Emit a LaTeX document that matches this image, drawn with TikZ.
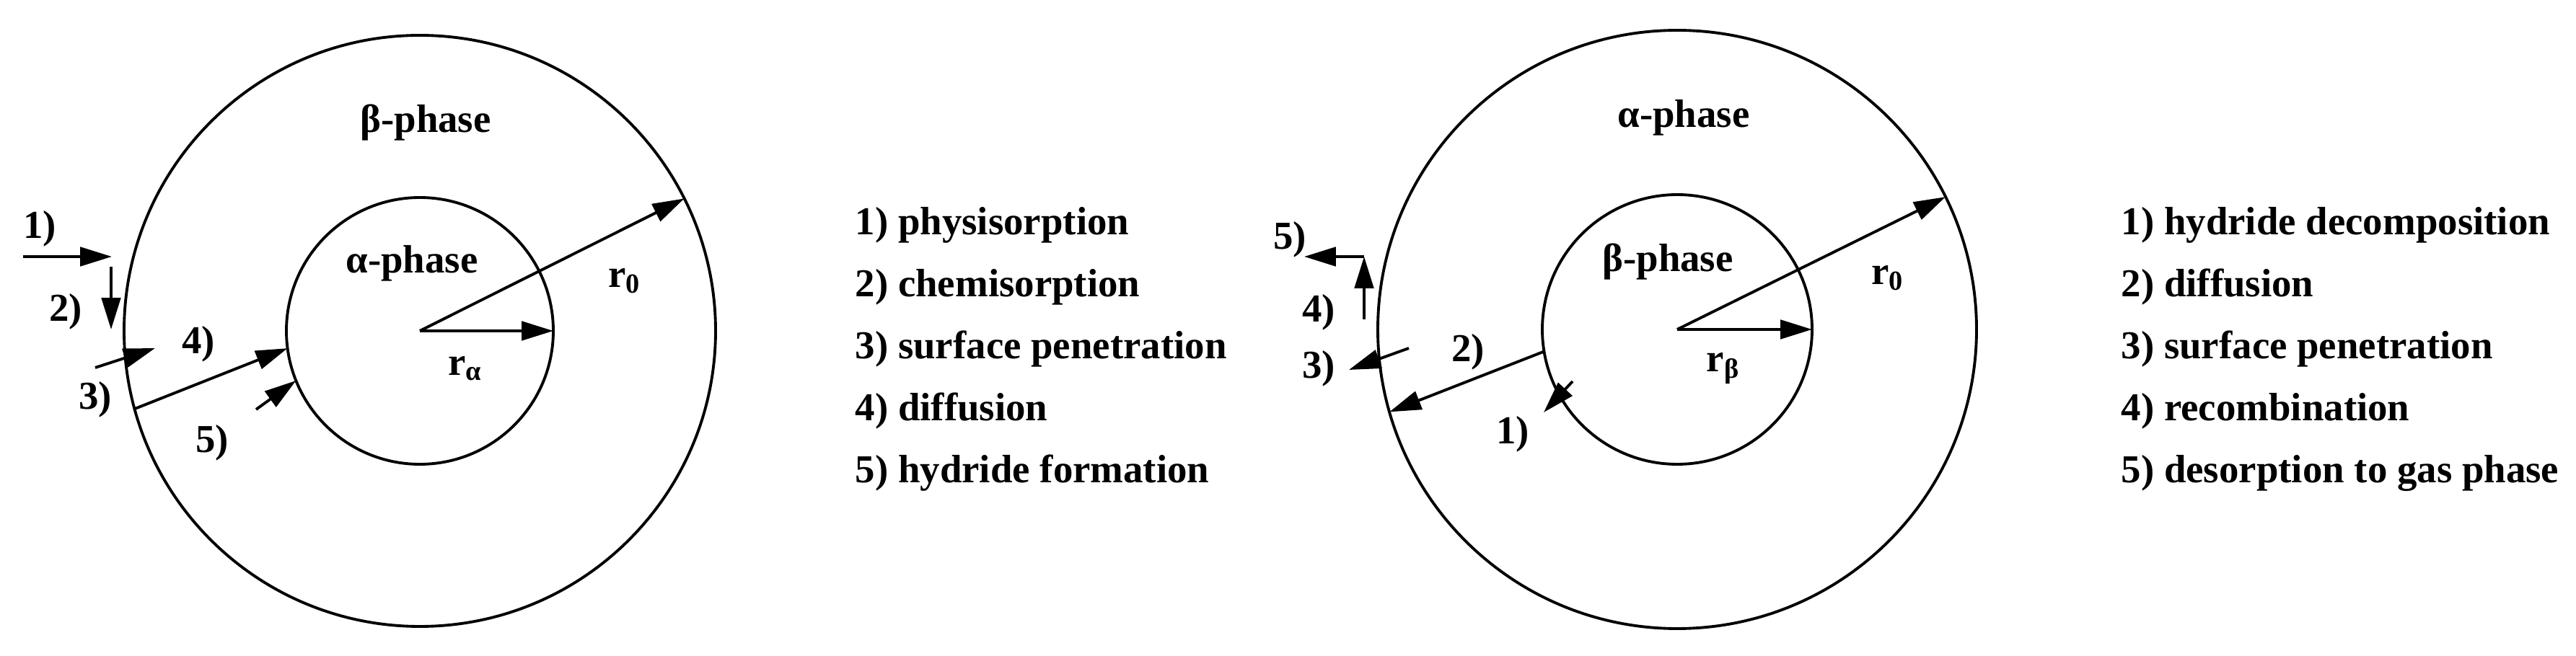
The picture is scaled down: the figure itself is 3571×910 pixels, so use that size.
\documentclass[tikz,border=0pt]{standalone}
\usepackage{fontspec}
\setmainfont{Liberation Serif}
\usetikzlibrary{arrows.meta,calc}
\begin{document}
\begin{tikzpicture}[x=0.01cm,y=-0.01cm,
  lbl/.style={font=\fontsize{15.6}{19}\selectfont\bfseries, inner sep=0pt},
  leg/.style={lbl, anchor=base west},
  ring/.style={line width=1.1pt},
  arr/.style={line width=1.1pt, -{Triangle[length=12.5pt,width=7.5pt]}}]
\useasboundingbox (0,0) rectangle (3571,910);

% ---------- left figure: absorption ----------
\coordinate (cL) at (582,459);
\draw[ring] (cL) circle[radius=410];
\draw[ring] (cL) circle[radius=185];
\node[lbl] (bphL) at (590,170) {β-phase};
\node[lbl] (aphL) at (571,365) {α-phase};
\node[lbl] (r0L) at (866,390) {r\textsubscript{0}};
\node[lbl] (raL) at (645,511) {r\textsubscript{α}};
\coordinate (r0tipL) at ($(cL)+(-26.6:410)$);
\coordinate (ratipL) at ($(cL)+(0:185)$);
\draw[arr] (cL) -- (r0tipL);
\draw[arr] (cL) -- (ratipL);

\coordinate (a1s) at (32,356);  \coordinate (a1e) at (155,356);
\coordinate (a2s) at (154,370); \coordinate (a2e) at (154,457);
\coordinate (a3s) at (132,510); \coordinate (a3e) at (215,483);
\coordinate (a4s) at ($(cL)+(-195.3:410)$); \coordinate (a4e) at ($(cL)+(-187.5:185)$);
\coordinate (a5s) at (355,568); \coordinate (a5e) at ($(cL)+(-201.9:185)$);
\draw[arr] (a1s) -- (a1e);
\draw[arr] (a2s) -- (a2e);
\draw[arr] (a3s) -- (a3e);
\draw[arr] (a4s) -- (a4e);
\draw[arr] (a5s) -- (a5e);
\node[lbl] (l1L) at (55,317) {1)};
\node[lbl] (l2L) at (91,432) {2)};
\node[lbl] (l3L) at (132,554) {3)};
\node[lbl] (l4L) at (275,477) {4)};
\node[lbl] (l5L) at (294,614) {5)};

\node[leg] (t1L) at (1185,326) {1) physisorption};
\node[leg] (t2L) at (1185,412) {2) chemisorption};
\node[leg] (t3L) at (1185,498) {3) surface penetration};
\node[leg] (t4L) at (1185,584) {4) diffusion};
\node[leg] (t5L) at (1185,670) {5) hydride formation};

% ---------- right figure: desorption ----------
\coordinate (cR) at (2325,457);
\draw[ring] (cR) circle[radius=415];
\draw[ring] (cR) circle[radius=187];
\node[lbl] (aphR) at (2334,163) {α-phase};
\node[lbl] (bphR) at (2312,363) {β-phase};
\node[lbl] (r0R) at (2617,386) {r\textsubscript{0}};
\node[lbl] (rbR) at (2389,511) {r\textsubscript{β}};
\coordinate (r0tipR) at ($(cR)+(-26.3:415)$);
\coordinate (rbtipR) at ($(cR)+(0:187)$);
\draw[arr] (cR) -- (r0tipR);
\draw[arr] (cR) -- (rbtipR);

\coordinate (b1s) at (2180,529); \coordinate (b1e) at (2140,572);
\coordinate (b2s) at ($(cR)+(-189.4:187)$); \coordinate (b2e) at ($(cR)+(-196:415)$);
\coordinate (b3s) at (1953,483); \coordinate (b3e) at (1870,513);
\coordinate (b4s) at (1891,443); \coordinate (corner) at (1891,356);
\coordinate (b5e) at (1808,356);
\draw[arr] (b1s) -- (b1e);
\draw[arr] (b2s) -- (b2e);
\draw[arr] (b3s) -- (b3e);
\draw[arr] (b4s) -- (corner);
\draw[arr] (corner) -- (b5e);
\node[lbl] (l1R) at (2097,602) {1)};
\node[lbl] (l2R) at (2035,488) {2)};
\node[lbl] (l3R) at (1828,511) {3)};
\node[lbl] (l4R) at (1828,433) {4)};
\node[lbl] (l5R) at (1788,332) {5)};

\node[leg] (t1R) at (2940,326) {1) hydride decomposition};
\node[leg] (t2R) at (2940,412) {2) diffusion};
\node[leg] (t3R) at (2940,498) {3) surface penetration};
\node[leg] (t4R) at (2940,584) {4) recombination};
\node[leg] (t5R) at (2940,670) {5) desorption to gas phase};
\end{tikzpicture}
\end{document}
